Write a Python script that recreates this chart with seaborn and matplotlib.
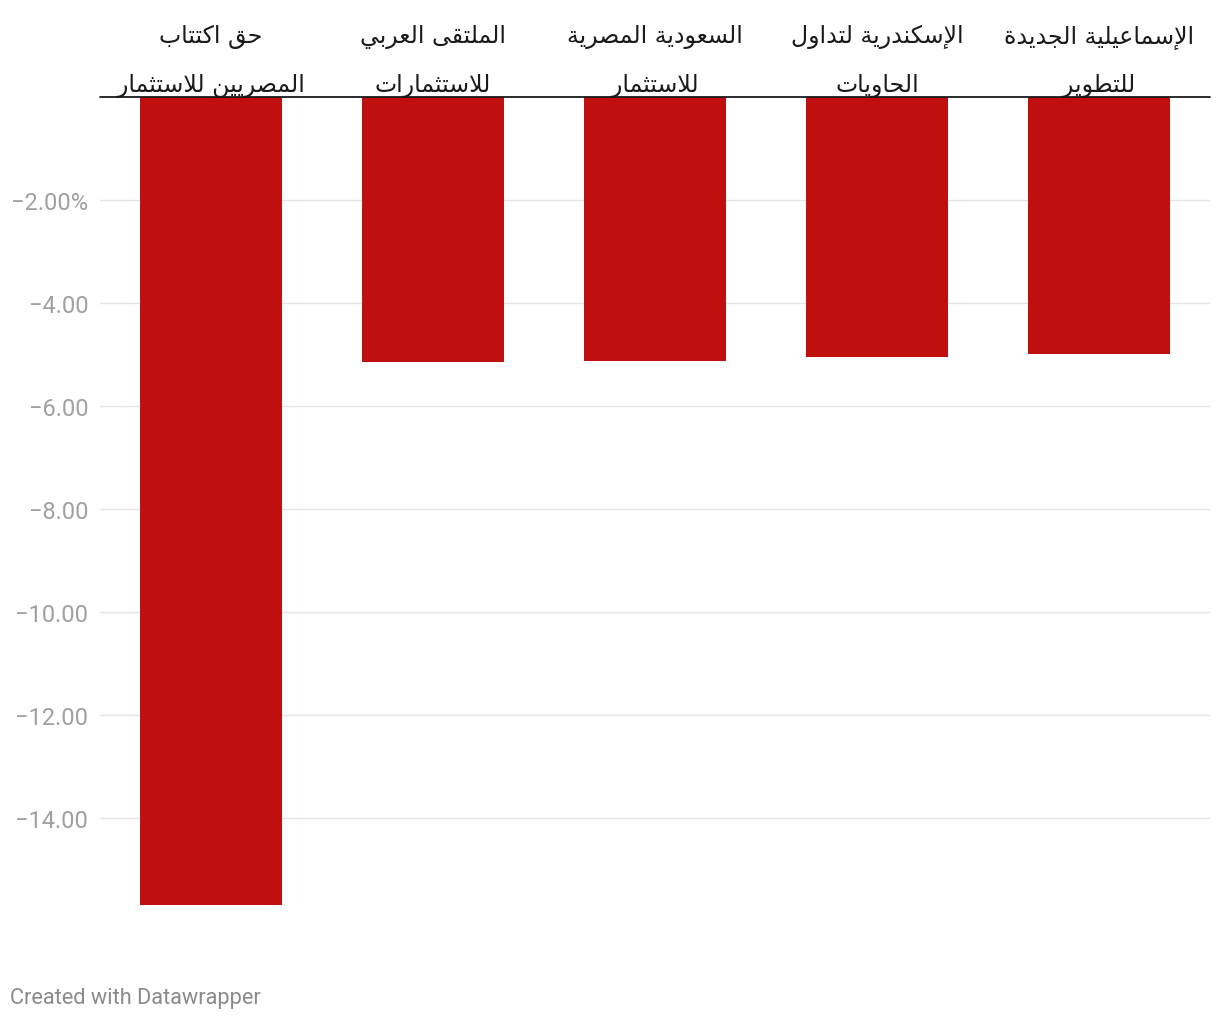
import matplotlib
matplotlib.use("Agg")
import matplotlib.pyplot as plt
import matplotlib.transforms as mtransforms
import seaborn as sns
import pandas as pd

# ---------------- data ----------------
label_line1 = ["حق اكتتاب", "الملتقى العربي", "السعودية المصرية", "الإسكندرية لتداول", "الإسماعيلية الجديدة"]
label_line2 = ["المصريين للاستثمار", "للاستثمارات", "للاستثمار", "الحاويات", "للتطوير"]
values = [-15.68, -5.14, -5.12, -5.05, -4.99]
y_ticks = [-2, -4, -6, -8, -10, -12, -14]
y_tick_labels = ["−2.00%", "−4.00", "−6.00", "−8.00", "−10.00", "−12.00", "−14.00"]
footer = "Created with Datawrapper"

# ---------------- minimal Arabic shaping (presentation forms) ----------------
AR = {
    '\u0627': (0xFE8D, 0xFE8E, None, None),
    '\u0625': (0xFE87, 0xFE88, None, None),
    '\u0628': (0xFE8F, 0xFE90, 0xFE91, 0xFE92),
    '\u0629': (0xFE93, 0xFE94, None, None),
    '\u062A': (0xFE95, 0xFE96, 0xFE97, 0xFE98),
    '\u062B': (0xFE99, 0xFE9A, 0xFE9B, 0xFE9C),
    '\u062C': (0xFE9D, 0xFE9E, 0xFE9F, 0xFEA0),
    '\u062D': (0xFEA1, 0xFEA2, 0xFEA3, 0xFEA4),
    '\u062F': (0xFEA9, 0xFEAA, None, None),
    '\u0631': (0xFEAD, 0xFEAE, None, None),
    '\u0633': (0xFEB1, 0xFEB2, 0xFEB3, 0xFEB4),
    '\u0635': (0xFEB9, 0xFEBA, 0xFEBB, 0xFEBC),
    '\u0637': (0xFEC1, 0xFEC2, 0xFEC3, 0xFEC4),
    '\u0639': (0xFEC9, 0xFECA, 0xFECB, 0xFECC),
    '\u0642': (0xFED5, 0xFED6, 0xFED7, 0xFED8),
    '\u0643': (0xFED9, 0xFEDA, 0xFEDB, 0xFEDC),
    '\u0644': (0xFEDD, 0xFEDE, 0xFEDF, 0xFEE0),
    '\u0645': (0xFEE1, 0xFEE2, 0xFEE3, 0xFEE4),
    '\u0646': (0xFEE5, 0xFEE6, 0xFEE7, 0xFEE8),
    '\u0648': (0xFEED, 0xFEEE, None, None),
    '\u0649': (0xFEEF, 0xFEF0, None, None),
    '\u064A': (0xFEF1, 0xFEF2, 0xFEF3, 0xFEF4),
}
LIG = {'\u0627': (0xFEFB, 0xFEFC), '\u0625': (0xFEF9, 0xFEFA)}


def shape(text):
    units = []
    i = 0
    while i < len(text):
        c = text[i]
        if c == '\u0644' and i + 1 < len(text) and text[i + 1] in LIG:
            units.append(('lig', text[i + 1]))
            i += 2
        else:
            units.append(('ch', c))
            i += 1

    def joins_next(u):
        return u[0] == 'ch' and u[1] in AR and AR[u[1]][2] is not None

    def joining(u):
        return u[0] == 'lig' or u[1] in AR

    out = []
    for k, u in enumerate(units):
        prev = units[k - 1] if k > 0 else None
        nxt = units[k + 1] if k + 1 < len(units) else None
        jp = prev is not None and joins_next(prev) and joining(u)
        if u[0] == 'lig':
            f = LIG[u[1]]
            out.append(chr(f[1] if jp else f[0]))
            continue
        if u[1] not in AR:
            out.append(u[1])
            continue
        f = AR[u[1]]
        jn = nxt is not None and joins_next(u) and joining(nxt)
        if jp and jn:
            g = f[3]
        elif jp:
            g = f[1]
        elif jn:
            g = f[2]
        else:
            g = f[0]
        out.append(chr(g))
    return ''.join(reversed(out))


# ---------------- figure ----------------
sns.set_theme(style="white")
plt.rcParams['font.family'] = ['Roboto', 'DejaVu Sans']

W, H = 1220, 1020
fig = plt.figure(figsize=(W / 100, H / 100), dpi=100)
fig.patch.set_facecolor("white")

ymin = -16.5
px_per_unit = (819.3 - 97.7) / 14.0
top_px = 97.7
bottom_px = top_px + (-ymin) * px_per_unit
ax = fig.add_axes([100 / W, 1 - bottom_px / H, 1110 / W, (bottom_px - top_px) / H])

cats = [f"c{i}" for i in range(len(values))]
df = pd.DataFrame({"cat": cats, "val": values})
sns.barplot(data=df, x="cat", y="val", order=cats, color="#c00f0f",
            saturation=1, width=0.64, ax=ax, zorder=2, edgecolor="none")

ax.set_ylim(ymin, 0)
ax.set_xlim(-0.5, len(values) - 0.5)
ax.set_yticks(y_ticks)
ax.set_yticklabels(y_tick_labels)
ax.tick_params(axis="y", length=0, pad=8.5, labelsize=17, labelcolor="#a0a0a0")
ax.set_xticks([])
ax.set_xlabel("")
ax.set_ylabel("")
for s in ax.spines.values():
    s.set_visible(False)

for t in y_ticks:
    ax.axhline(t, color="#e4e4e4", lw=1.0, zorder=1)
ax.axhline(0, color="#1a1a1a", lw=1.3, zorder=4, clip_on=False)

# category labels (two lines above the bars)
trans = mtransforms.blended_transform_factory(ax.transData, fig.transFigure)
for i, (l1, l2) in enumerate(zip(label_line1, label_line2)):
    ax.text(i, 1 - 43 / H, shape(l1), transform=trans, ha="center", va="baseline",
            fontsize=17, color="#1a1a1a", family=['DejaVu Sans'], zorder=3)
    ax.text(i, 1 - 92.5 / H, shape(l2), transform=trans, ha="center", va="baseline",
            fontsize=17, color="#1a1a1a", family=['DejaVu Sans'], zorder=3)

fig.text(10 / W, 1 - 1004 / H, footer, ha="left", va="baseline",
         fontsize=15.7, color="#8a8a8a")

fig.savefig("out.png", dpi=100, facecolor="white")
